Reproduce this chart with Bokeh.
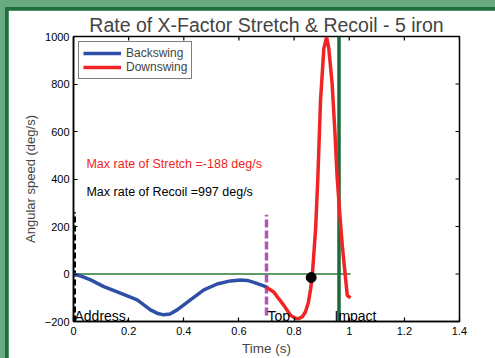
from bokeh.plotting import figure
from bokeh.layouts import column
from bokeh.embed import file_html
from bokeh.resources import INLINE
from bokeh.models import (FixedTicker, Range1d, Legend, LegendItem, Label)

# ---- data ----
title_text = "Rate of X-Factor Stretch & Recoil - 5 iron"
x_ticks = [0, 0.2, 0.4, 0.6, 0.8, 1.0, 1.2, 1.4]
y_ticks = [-200, 0, 200, 400, 600, 800, 1000]

back_t = [0.0, 0.03, 0.062, 0.11, 0.17, 0.231, 0.279, 0.305, 0.328, 0.35,
          0.376, 0.424, 0.473, 0.521, 0.569, 0.606, 0.63, 0.654, 0.69, 0.70]
back_v = [0, -10, -25, -53, -81, -109, -151, -166, -172, -168,
          -151, -109, -67, -42, -29, -25, -27, -35, -50, -55]

down_t = [0.70, 0.727, 0.745, 0.763, 0.787, 0.805, 0.817, 0.83, 0.841, 0.852,
          0.86, 0.866, 0.872, 0.878, 0.886, 0.896, 0.908, 0.918, 0.926, 0.938,
          0.948, 0.956, 0.966, 0.975, 0.987, 0.993, 1.005]
down_v = [-55, -77, -105, -132, -174, -186, -188, -180, -160, -120,
          -63, -7, 90, 188, 397, 732, 950, 997, 950, 802,
          600, 411, 250, 118, -21, -91, -100]

zero_line_t = [0.0, 1.005]
zero_line_v = [0, 0]
address_t, address_v = [0.0, 0.0], [-200, 260]
top_t, top_v = [0.70, 0.70], [-175, 250]
impact_t, impact_v = [0.963, 0.963], [-200, 1000]
cross_t, cross_v = [0.862], [-15]

stretch_text = "Max rate of Stretch =-188 deg/s"
recoil_text = "Max rate of Recoil =997 deg/s"
event_labels = ["Address,", "Top", "Impact"]
event_t = [0.0, 0.70, 0.943]

FONT = "Liberation Sans"
X0, X1, Y0, Y1 = 0, 1.4, -200, 1000

W, H = 487, 348
ML, MR, MT, MB = 65, 36, 26, 35
FW, FH = W - ML - MR, H - MT - MB

p = figure(width=W, height=H, output_backend="svg", toolbar_location=None,
           x_range=Range1d(X0, X1), y_range=Range1d(Y0, Y1),
           min_border_left=ML, min_border_right=MR, min_border_top=MT,
           min_border_bottom=MB)
p.title.text = title_text
p.title.align = "center"
p.title.text_font = FONT
p.title.text_font_size = "19.5px"
p.title.text_font_style = "normal"
p.title.standoff = 1
p.title.offset = 0

p.xgrid.visible = False
p.ygrid.visible = False
p.outline_line_color = "black"
p.outline_line_width = 1.5
p.background_fill_color = "white"
p.border_fill_color = "white"

def style_axis(ax, ticks):
    ax.ticker = FixedTicker(ticks=ticks)
    ax.major_tick_in = 4
    ax.major_tick_out = 0
    ax.minor_tick_line_color = None
    ax.axis_line_color = "black"
    ax.axis_line_width = 1.5
    ax.major_tick_line_color = "black"
    ax.major_tick_line_width = 1.2
    ax.major_label_text_font = FONT
    ax.major_label_text_font_size = "11px"
    ax.major_label_text_color = "black"
    ax.axis_label_text_font = FONT
    ax.axis_label_text_font_style = "normal"

p.xaxis.axis_label = "Time (s)"
p.yaxis.axis_label = "Angular speed (deg/s)"
style_axis(p.xaxis[0], x_ticks)
style_axis(p.yaxis[0], y_ticks)
p.xaxis[0].major_label_overrides = {0: "0", 1: "1"}
p.xaxis[0].major_label_standoff = 5
p.yaxis[0].major_label_standoff = 4
p.xaxis[0].axis_label_text_font_size = "13.5px"
p.yaxis[0].axis_label_text_font_size = "13px"
p.xaxis.axis_label_standoff = 3
p.yaxis.axis_label_standoff = 4

# mirrored inward ticks on the top and right edges of the box
tick_dx = 4 * (X1 - X0) / FW
tick_dy = 4 * (Y1 - Y0) / FH
p.segment(x0=[X1 - tick_dx] * len(y_ticks), y0=y_ticks,
          x1=[X1] * len(y_ticks), y1=y_ticks, line_color="black", line_width=1.2)
p.segment(x0=x_ticks, y0=[Y1 - tick_dy] * len(x_ticks),
          x1=x_ticks, y1=[Y1] * len(x_ticks), line_color="black", line_width=1.2)

# reference lines
p.line(zero_line_t, zero_line_v, line_color="#2a7a3a", line_width=1.5)
p.line(address_t, address_v, line_color="black", line_width=5, line_dash="6 3")
p.line(top_t, top_v, line_color="#b455b4", line_width=3.5, line_dash="8 3")
p.line(impact_t, impact_v, line_color="#1d6b3a", line_width=3.5)

r_back = p.line(back_t, back_v, line_color="#2f4fa6", line_width=3.5)
r_down = p.line(down_t, down_v, line_color="#f02424", line_width=3.5)

p.scatter(cross_t, cross_v, size=10, color="black")

legend = Legend(items=[LegendItem(label="Backswing", renderers=[r_back]),
                       LegendItem(label="Downswing", renderers=[r_down])],
                location="top_left")
legend.label_text_font = FONT
legend.label_text_font_size = "12px"
legend.border_line_color = "black"
legend.border_line_width = 1.2
legend.margin = 5
legend.padding = 4
legend.spacing = 0
legend.glyph_width = 38
legend.glyph_height = 14
legend.label_height = 14
legend.label_standoff = 5
p.add_layout(legend)

p.add_layout(Label(x=0.047, y=465, text=stretch_text, text_color="#f02424",
                   text_font=FONT, text_font_size="12.5px",
                   text_baseline="middle"))
p.add_layout(Label(x=0.047, y=345, text=recoil_text, text_color="black",
                   text_font=FONT, text_font_size="12.5px",
                   text_baseline="middle"))
for lbl, t in zip(event_labels, event_t):
    p.add_layout(Label(x=t, y=-175, text=lbl, text_color="black",
                       text_font=FONT, text_font_size="14px",
                       text_baseline="middle", x_offset=1))

inner = column(p, styles={"background-color": "#1e6e3e",
                          "padding-left": "3px", "padding-top": "3px"})
page = column(inner, styles={"background-color": "#68ab82",
                             "padding-left": "5px", "padding-top": "7px"})

open("out.html", "w").write(file_html(page, INLINE))
